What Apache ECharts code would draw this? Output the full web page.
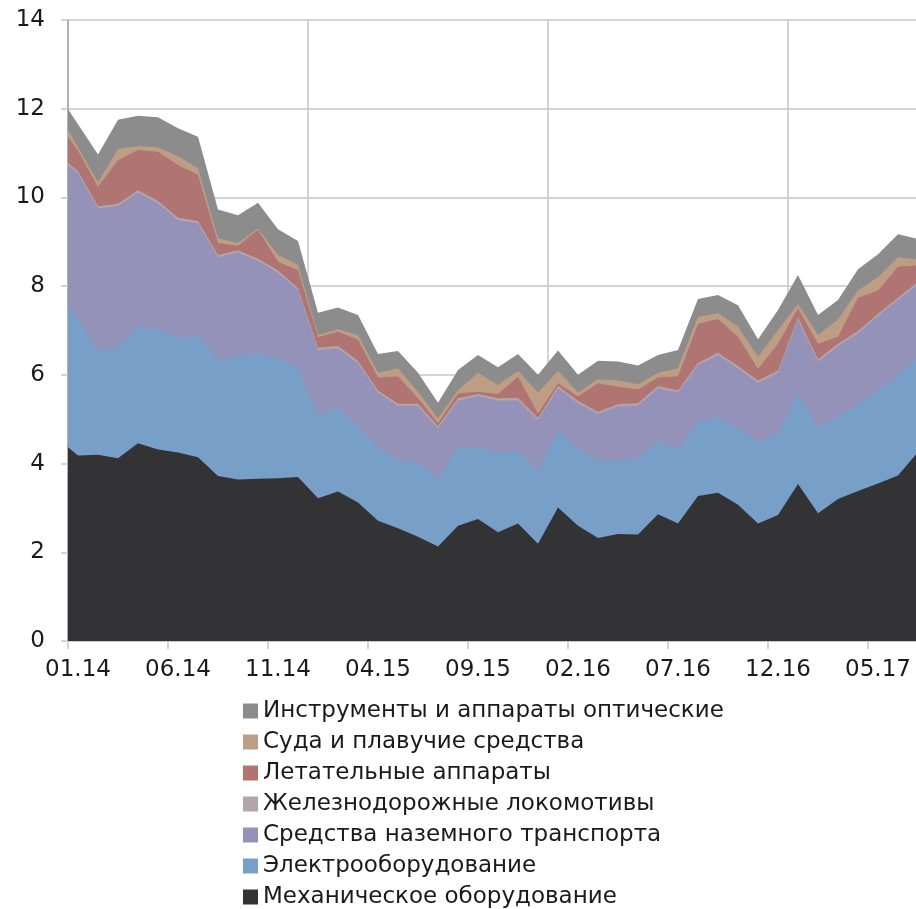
<!DOCTYPE html>
<html>
<head>
<meta charset="utf-8">
<script src="https://cdn.jsdelivr.net/npm/echarts@6/dist/echarts.min.js"></script>
<style>
  html, body { margin: 0; padding: 0; overflow: hidden; background: #ffffff; }
  #chart { width: 940px; height: 909px; }
</style>
</head>
<body>
<div id="chart"></div>
<script>
// Monthly periods; the first one (12.13) lies just left of the axis start and is clipped.
const periods = [
  '12.13',
  '01.14','02.14','03.14','04.14','05.14','06.14','07.14','08.14','09.14','10.14','11.14','12.14',
  '01.15','02.15','03.15','04.15','05.15','06.15','07.15','08.15','09.15','10.15','11.15','12.15',
  '01.16','02.16','03.16','04.16','05.16','06.16','07.16','08.16','09.16','10.16','11.16','12.16',
  '01.17','02.17','03.17','04.17','05.17','06.17','07.17'
];
const axisMonths = periods.slice(1);

const seriesNames = [
  'Механическое оборудование',
  'Электрооборудование',
  'Средства наземного транспорта',
  'Железнодорожные локомотивы',
  'Летательные аппараты',
  'Суда и плавучие средства',
  'Инструменты и аппараты оптические'
];

const mechanical = [4.56,
  4.18,4.20,4.12,4.46,4.32,4.25,4.14,3.72,3.64,3.66,3.67,3.70,
  3.22,3.37,3.12,2.71,2.54,2.35,2.13,2.60,2.75,2.45,2.65,2.19,
  3.01,2.60,2.32,2.41,2.40,2.86,2.65,3.27,3.34,3.07,2.65,2.84,
  3.54,2.88,3.20,3.38,3.55,3.73,4.26];
const electrical = [3.35,
  3.07,2.36,2.50,2.63,2.71,2.57,2.78,2.61,2.79,2.83,2.70,2.47,
  1.87,1.89,1.71,1.66,1.54,1.69,1.52,1.78,1.61,1.80,1.64,1.65,
  1.73,1.74,1.76,1.67,1.72,1.66,1.69,1.66,1.70,1.73,1.84,1.84,
  2.06,1.92,1.87,1.96,2.09,2.27,2.14];
const landTransport = [3.01,
  3.29,3.19,3.19,3.02,2.84,2.67,2.50,2.32,2.33,2.08,1.93,1.74,
  1.47,1.34,1.43,1.23,1.22,1.26,1.14,1.04,1.16,1.17,1.14,1.14,
  0.96,1.02,1.04,1.21,1.19,1.18,1.26,1.29,1.41,1.35,1.33,1.37,
  1.65,1.50,1.58,1.60,1.69,1.69,1.65];
const railway = [0.05,
  0.05,0.05,0.05,0.05,0.05,0.05,0.05,0.05,0.05,0.05,0.05,0.05,
  0.05,0.05,0.05,0.05,0.05,0.05,0.05,0.05,0.05,0.05,0.05,0.05,
  0.05,0.05,0.05,0.05,0.05,0.05,0.05,0.05,0.05,0.05,0.05,0.05,
  0.05,0.05,0.05,0.05,0.05,0.05,0.05];
const aircraft = [0.72,
  0.46,0.44,0.98,0.91,1.11,1.19,1.04,0.27,0.10,0.65,0.20,0.40,
  0.24,0.32,0.48,0.29,0.62,0.12,0.07,0.11,0.05,0.10,0.48,0.10,
  0.06,0.10,0.64,0.39,0.31,0.19,0.32,0.88,0.76,0.66,0.26,0.60,
  0.20,0.35,0.16,0.75,0.52,0.70,0.37];
const ships = [0.22,
  0.08,0.10,0.25,0.09,0.10,0.20,0.15,0.11,0.06,0.03,0.15,0.12,
  0.05,0.06,0.11,0.11,0.18,0.15,0.11,0.08,0.43,0.20,0.13,0.47,
  0.28,0.09,0.09,0.15,0.12,0.11,0.18,0.16,0.13,0.23,0.28,0.31,
  0.10,0.20,0.39,0.17,0.30,0.21,0.13];
const optical = [0.42,
  0.52,0.63,0.66,0.68,0.68,0.63,0.71,0.65,0.63,0.58,0.58,0.54,
  0.50,0.49,0.45,0.42,0.39,0.43,0.35,0.45,0.40,0.40,0.38,0.40,
  0.46,0.40,0.42,0.42,0.42,0.40,0.41,0.40,0.41,0.48,0.39,0.45,
  0.65,0.45,0.44,0.47,0.52,0.52,0.46];

const yTicks = [0, 2, 4, 6, 8, 10, 12, 14];

const seriesValues = [mechanical, electrical, landTransport, railway, aircraft, ships, optical];
const seriesColors = ['#333335', '#779fc7', '#9592ba', '#b1a6a8', '#b07472', '#bd9e84', '#8c8c8c'];

const FONT = 'DejaVu Sans';
const TEXT = '#1a1a1a';
const GRID = '#c6c6c6';
const AXIS = '#a6a6a6';

// Running totals: each layer is filled from zero up to its cumulative top;
// upper layers are drawn first so that lower ones paint over them.
const cumulative = [];
seriesValues.forEach((vals, i) => {
  cumulative.push(vals.map((v, j) => +(v + (i > 0 ? cumulative[i - 1][j] : 0)).toFixed(4)));
});

const layers = seriesNames.map((name, i) => ({
  name: name,
  type: 'line',
  xAxisIndex: 1,
  symbol: 'none',
  showSymbol: false,
  lineStyle: { width: 0, color: seriesColors[i] },
  itemStyle: { color: seriesColors[i] },
  areaStyle: { color: seriesColors[i], opacity: 1 },
  data: cumulative[i].map((v, j) => [j - 1, v])
})).reverse();

const chart = echarts.init(document.getElementById('chart'), null, { renderer: 'canvas' });

chart.setOption({
  animation: false,
  backgroundColor: '#ffffff',
  grid: { left: 68, right: 12, top: 20, bottom: 268, containLabel: false },
  xAxis: [
    {
      // month labels, tick marks every 5 months, vertical grid at each new year
      type: 'category',
      data: axisMonths,
      boundaryGap: true,
      axisLine: { show: true, onZero: false, lineStyle: { color: GRID, width: 1.5 } },
      axisTick: { show: true, interval: 4, length: 8, lineStyle: { color: GRID, width: 1.5 } },
      axisLabel: { interval: 4, margin: 18, fontFamily: FONT, fontSize: 23, color: TEXT },
      splitLine: { show: true, interval: 11, lineStyle: { color: GRID, width: 1.5 } }
    },
    {
      // numeric month index used to place the layers
      type: 'value',
      min: -0.5,
      max: axisMonths.length - 0.5,
      show: false
    }
  ],
  yAxis: {
    type: 'value',
    min: yTicks[0],
    max: yTicks[yTicks.length - 1],
    interval: yTicks[1] - yTicks[0],
    axisLine: { show: true, onZero: false, lineStyle: { color: AXIS, width: 1.5 } },
    axisTick: { show: true, length: 7, lineStyle: { color: GRID, width: 1.5 } },
    axisLabel: { margin: 23, fontFamily: FONT, fontSize: 23, color: TEXT },
    splitLine: { show: true, lineStyle: { color: GRID, width: 1.5 } }
  },
  legend: {
    orient: 'vertical',
    left: 243,
    top: 699,
    padding: 0,
    itemGap: 7,
    itemWidth: 15,
    itemHeight: 15,
    icon: 'rect',
    selectedMode: false,
    data: seriesNames.slice().reverse(),
    textStyle: { fontFamily: FONT, fontSize: 23, lineHeight: 24, color: TEXT }
  },
  series: layers
});
</script>
</body>
</html>
